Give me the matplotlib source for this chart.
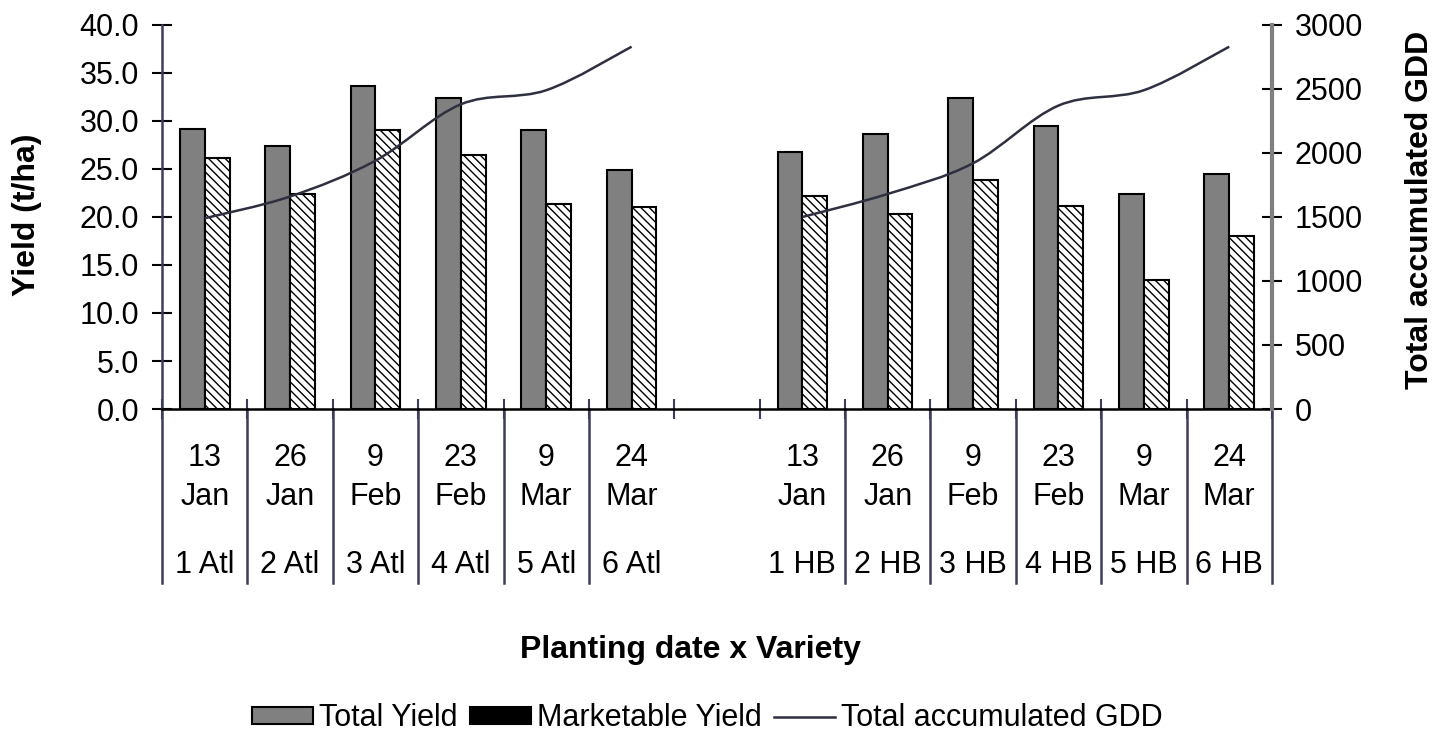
import matplotlib
matplotlib.use("Agg")
import matplotlib.pyplot as plt
import matplotlib.transforms as mtransforms
from matplotlib.path import Path
from matplotlib.patches import PathPatch, Rectangle
from matplotlib.lines import Line2D

plt.rcParams['font.family'] = ['Liberation Sans', 'DejaVu Sans']
plt.rcParams['hatch.linewidth'] = 1.0

# ---- data -------------------------------------------------------------
day_labels = ["13", "26", "9", "23", "9", "24", "", "13", "26", "9", "23", "9", "24"]
month_labels = ["Jan", "Jan", "Feb", "Feb", "Mar", "Mar", "",
                "Jan", "Jan", "Feb", "Feb", "Mar", "Mar"]
variety_labels = ["1 Atl", "2 Atl", "3 Atl", "4 Atl", "5 Atl", "6 Atl", "",
                  "1 HB", "2 HB", "3 HB", "4 HB", "5 HB", "6 HB"]

total_atl = [29.2, 27.4, 33.6, 32.4, 29.1, 24.9]
market_atl = [26.1, 22.4, 29.1, 26.5, 21.3, 21.0]
total_hb = [26.8, 28.6, 32.4, 29.5, 22.4, 24.5]
market_hb = [22.2, 20.3, 23.9, 21.1, 13.4, 18.0]

gdd_atl = [1490, 1660, 1940, 2380, 2490, 2830]
gdd_hb = [1500, 1680, 1920, 2370, 2490, 2830]

pos_atl = [0, 1, 2, 3, 4, 5]
pos_hb = [7, 8, 9, 10, 11, 12]

yield_ticks = [0, 5, 10, 15, 20, 25, 30, 35, 40]
gdd_ticks = [0, 500, 1000, 1500, 2000, 2500, 3000]

# ---- figure -----------------------------------------------------------
FS = 22
FS_TITLE = 23
fig = plt.figure(figsize=(14.47, 7.33), dpi=100)
ax = fig.add_axes([0.112, 0.442, 0.767, 0.524])
ax2 = ax.twinx()

bar_w = 0.29
total_kw = dict(width=bar_w, color='#808080', edgecolor='black', linewidth=1.5)
market_kw = dict(width=bar_w, color='white', edgecolor='black', linewidth=1.5,
                 hatch='\\\\\\\\')
ax.bar([p - bar_w / 2 for p in pos_atl], total_atl, **total_kw)
ax.bar([p + bar_w / 2 for p in pos_atl], market_atl, **market_kw)
ax.bar([p - bar_w / 2 for p in pos_hb], total_hb, **total_kw)
ax.bar([p + bar_w / 2 for p in pos_hb], market_hb, **market_kw)

ax.set_xlim(-0.5, 12.5)
ax.set_ylim(0, 40)
ax2.set_ylim(0, 3000)


def smooth_path(xs, ys):
    """Cubic Bezier path through the points (Excel-style smoothed line)."""
    pts = list(zip(xs, ys))
    n = len(pts)
    verts = [pts[0]]
    codes = [Path.MOVETO]
    for i in range(n - 1):
        p0 = pts[max(i - 1, 0)]
        p1 = pts[i]
        p2 = pts[i + 1]
        p3 = pts[min(i + 2, n - 1)]
        c1 = (p1[0] + (p2[0] - p0[0]) / 6, p1[1] + (p2[1] - p0[1]) / 6)
        c2 = (p2[0] - (p3[0] - p1[0]) / 6, p2[1] - (p3[1] - p1[1]) / 6)
        verts += [c1, c2, p2]
        codes += [Path.CURVE4] * 3
    return Path(verts, codes)


for xs, ys in ((pos_atl, gdd_atl), (pos_hb, gdd_hb)):
    ax2.add_patch(PathPatch(smooth_path(xs, ys), facecolor='none',
                            edgecolor='#2e3040', linewidth=1.8))

# ---- axes styling -----------------------------------------------------
for a in (ax, ax2):
    a.spines['top'].set_visible(False)
ax.spines['left'].set_color('#3c3c5c')
ax.spines['left'].set_linewidth(1.8)
ax.spines['right'].set_visible(False)
ax2.spines['left'].set_visible(False)
ax2.spines['bottom'].set_visible(False)
ax2.spines['right'].set_color('#808080')
ax2.spines['right'].set_linewidth(3)
ax.spines['bottom'].set_linewidth(1.8)

ax.set_yticks(yield_ticks)
ax.set_yticklabels([f"{v:.1f}" for v in yield_ticks])
ax.tick_params(axis='y', direction='inout', length=15, width=1.5,
               labelsize=FS, pad=9, colors='black')
ax2.set_yticks(gdd_ticks)
ax2.set_yticklabels([str(v) for v in gdd_ticks])
ax2.tick_params(axis='y', direction='inout', length=15, width=1.5,
                labelsize=FS, pad=9, colors='black')

bounds = [i - 0.5 for i in range(14)]
ax.set_xticks(bounds)
ax.set_xticklabels([])
ax.tick_params(axis='x', direction='inout', length=14, width=1.5,
               color='#3c3c5c')

# category label table below the axis
trans = mtransforms.blended_transform_factory(ax.transData, ax.transAxes)
sep_bottom = -0.452
for b in bounds:
    if b in (5.5, 6.5):
        continue
    ax.add_line(Line2D([b, b], [0, sep_bottom], transform=trans,
                       color='#3c3c5c', linewidth=1.8, clip_on=False))

for i in range(13):
    ax.text(i, -0.128, day_labels[i], transform=trans, ha='center',
            va='center', fontsize=FS)
    ax.text(i, -0.228, month_labels[i], transform=trans, ha='center',
            va='center', fontsize=FS)
    ax.text(i, -0.405, variety_labels[i], transform=trans, ha='center',
            va='center', fontsize=FS)

# ---- titles & legend --------------------------------------------------
fig.text(0.019, 0.707, "Yield (t/ha)", rotation=90, ha='center',
         va='center', fontsize=FS_TITLE, fontweight='bold')
fig.text(0.981, 0.713, "Total accumulated GDD", rotation=90, ha='center',
         va='center', fontsize=FS_TITLE, fontweight='bold')
fig.text(0.477, 0.113, "Planting date x Variety", ha='center',
         va='center', fontsize=FS_TITLE, fontweight='bold')

handles = [
    Rectangle((0, 0), 1, 1, facecolor='#808080', edgecolor='black', linewidth=1.5),
    Rectangle((0, 0), 1, 1, facecolor='black', edgecolor='black', linewidth=1.5),
    Line2D([], [], color='#2e3040', linewidth=1.8),
]
fig.legend(handles, ["Total Yield", "Marketable Yield", "Total accumulated GDD"],
           loc='center', bbox_to_anchor=(0.489, 0.02), ncol=3, frameon=False,
           fontsize=FS, handlelength=2.0, handleheight=0.5,
           handletextpad=0.2, columnspacing=0.4, borderaxespad=0)

fig.savefig("out.png", dpi=100, facecolor='white')
